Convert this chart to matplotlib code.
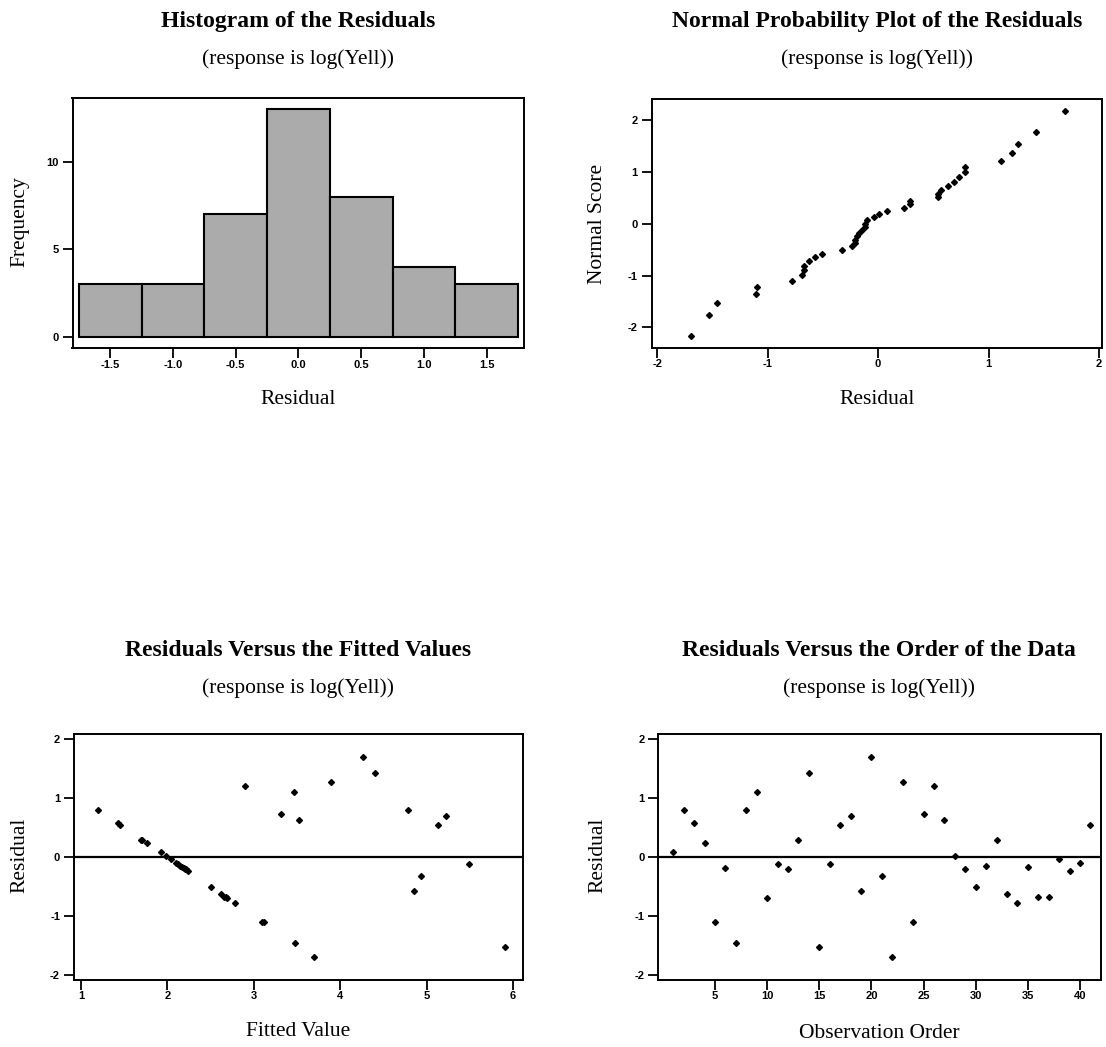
"""Four residual plots for the log(Yell) regression, Minitab style."""

from statistics import NormalDist

import matplotlib
matplotlib.use("Agg")
import matplotlib.pyplot as plt
import numpy as np

# residuals in observation order
residuals = [0.08, 0.79, 0.57, 0.23, -1.10, -0.19, -1.46, 0.79, 1.11, -0.69,
             -0.12, -0.21, 0.29, 1.43, -1.53, -0.12, 0.54, 0.69, -0.57, 1.69,
             -0.33, -1.69, 1.27, -1.11, 0.73, 1.21, 0.63, 0.01, -0.21, -0.51,
             -0.15, 0.29, -0.63, -0.78, -0.17, -0.67, -0.67, -0.04, -0.24, -0.10,
             0.54]
fitted = [1.93, 1.20, 1.43, 1.77, 3.12, 2.19, 3.48, 4.78, 3.47, 2.69,
          5.49, 2.21, 1.71, 4.40, 5.91, 2.12, 5.13, 5.22, 4.85, 4.26,
          4.94, 3.70, 3.90, 3.10, 3.32, 2.90, 3.52, 1.99, 2.22, 2.50,
          2.15, 1.69, 2.62, 2.78, 2.17, 2.66, 2.68, 2.04, 2.24, 2.10,
          1.45]
order = list(range(1, len(residuals) + 1))

hist_edges = [-1.75, -1.25, -0.75, -0.25, 0.25, 0.75, 1.25, 1.75]
hist_xticks = [-1.5, -1.0, -0.5, 0.0, 0.5, 1.0, 1.5]
hist_yticks = [0, 5, 10]
norm_ticks = [-2, -1, 0, 1, 2]
resid_ticks = [-2, -1, 0, 1, 2]
fitted_ticks = [1, 2, 3, 4, 5, 6]
order_ticks = [5, 10, 15, 20, 25, 30, 35, 40]

SUBTITLE = "(response is log(Yell))"

W, H = 1106, 1047
plt.rcParams["axes.unicode_minus"] = False
fig = plt.figure(figsize=(W / 100, H / 100), dpi=100)

SERIF = "Liberation Serif"


def px_axes(left, top, right, bottom):
    ax = fig.add_axes([left / W, 1 - bottom / H, (right - left) / W, (bottom - top) / H])
    for sp in ax.spines.values():
        sp.set_linewidth(1.4)
    ax.tick_params(length=7, width=1.3, direction="out", top=False, right=False)
    ax.tick_params(axis="x", pad=1.2)
    ax.tick_params(axis="y", pad=3.0)
    return ax


def style_ticks(ax):
    for lab in ax.get_xticklabels() + ax.get_yticklabels():
        lab.set_fontfamily("Liberation Sans")
        lab.set_fontweight("bold")
        lab.set_fontsize(8)


def headings(cx, ty, title, xlabel, xl_y, ylabel, yl_x, yl_y):
    fig.text(cx / W, 1 - ty / H, title, ha="center", va="center",
             family=SERIF, weight="bold", size=17)
    fig.text(cx / W, 1 - (ty + 37) / H, SUBTITLE, ha="center", va="center",
             family=SERIF, size=15.5)
    fig.text(cx / W, 1 - xl_y / H, xlabel, ha="center", va="center",
             family=SERIF, size=15.5)
    fig.text(yl_x / W, 1 - yl_y / H, ylabel, ha="center", va="center",
             rotation=90, family=SERIF, size=15.5)


# histogram
ax = px_axes(72.5, 98.3, 524.3, 348.3)
ax.hist(residuals, bins=hist_edges, color="#ababab", edgecolor="black", linewidth=1.5)
ax.set_xlim(-1.8, 1.8)
ax.set_ylim(-0.66, 13.62)
ax.set_xticks(hist_xticks)
ax.set_xticklabels([f"{v:.1f}" for v in hist_xticks])
ax.set_yticks(hist_yticks)
style_ticks(ax)
headings(298, 22, "Histogram of the Residuals", "Residual", 400, "Frequency", 20, 222)

# normal probability plot (Blom scores of the residuals)
ax = px_axes(651.7, 99, 1102.3, 347.7)
n = len(residuals)
ranks = np.argsort(np.argsort(residuals)) + 1
scores = [NormalDist().inv_cdf((r - 0.375) / (n + 0.25)) for r in ranks]
ax.plot(residuals, scores, "D", color="black", markersize=3)
ax.set_xlim(-2.05, 2.03)
ax.set_ylim(-2.39, 2.40)
ax.set_xticks(norm_ticks)
ax.set_yticks(norm_ticks)
style_ticks(ax)
headings(877, 22, "Normal Probability Plot of the Residuals", "Residual", 400,
         "Normal Score", 597.5, 224)

# residuals vs fitted
ax = px_axes(74, 734, 523.3, 980)
ax.axhline(0, color="black", linewidth=1.6)
ax.plot(fitted, residuals, "D", color="black", markersize=3)
ax.set_xlim(0.92, 6.12)
ax.set_ylim(-2.085, 2.085)
ax.set_xticks(fitted_ticks)
ax.set_yticks(resid_ticks)
style_ticks(ax)
headings(298, 651, "Residuals Versus the Fitted Values", "Fitted Value", 1032,
         "Residual", 20, 855)

# residuals vs order
ax = px_axes(658.3, 734, 1100.7, 980)
ax.axhline(0, color="black", linewidth=1.6)
ax.plot(order, residuals, "D", color="black", markersize=3)
ax.set_xlim(-0.44, 41.98)
ax.set_ylim(-2.085, 2.085)
ax.set_xticks(order_ticks)
ax.set_yticks(resid_ticks)
style_ticks(ax)
headings(879, 651, "Residuals Versus the Order of the Data", "Observation Order", 1034,
         "Residual", 597.5, 855)

fig.savefig("out.png", dpi=100)
plt.close(fig)
